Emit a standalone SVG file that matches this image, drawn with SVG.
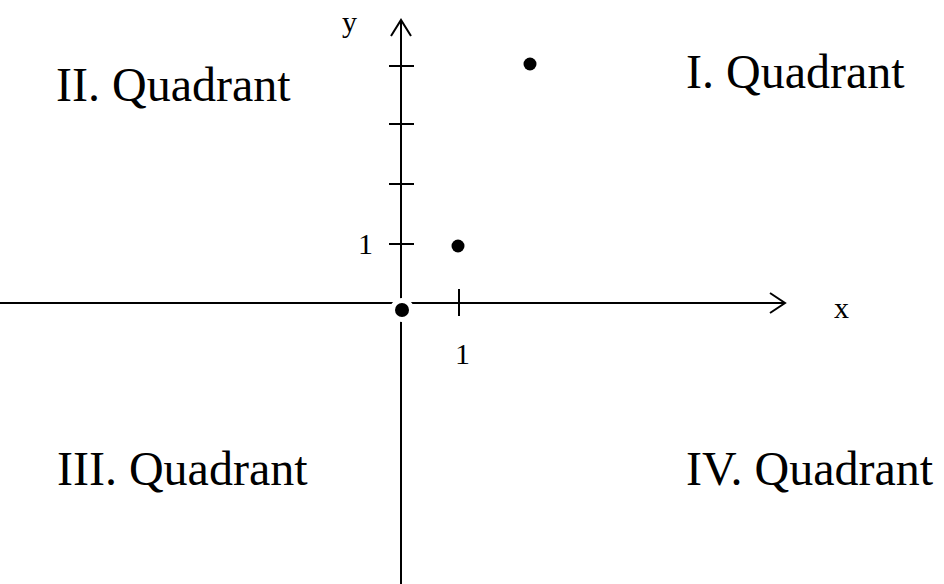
<svg xmlns="http://www.w3.org/2000/svg" width="944" height="584" viewBox="0 0 944 584">
<style>
.ax{stroke:#000;stroke-width:2;fill:none}
.q{font-family:"Liberation Serif","Times New Roman",serif;font-size:48px;fill:#000}
.s{font-family:"Liberation Serif","Times New Roman",serif;font-size:30px;fill:#000}
.pt{fill:#000}
</style>
<rect width="944" height="584" fill="#fff"/>
<g id="connectors">
<line class="ax" x1="0" y1="303" x2="785" y2="303"/>
<polyline class="ax" points="770,293 785,303 770,313"/>
<line class="ax" x1="401" y1="584" x2="401" y2="21"/>
<polyline class="ax" points="391,36 401,20 411,36"/>
<line class="ax" x1="389" y1="66" x2="414" y2="66"/>
<line class="ax" x1="389" y1="124" x2="414" y2="124"/>
<line class="ax" x1="389" y1="184" x2="414" y2="184"/>
<line class="ax" x1="389" y1="244" x2="414" y2="244"/>
<line class="ax" x1="459" y1="289" x2="459" y2="316"/>
</g>
<g id="origin"><circle class="pt" cx="402" cy="310" r="7" stroke="#fff" stroke-width="10" paint-order="stroke"/></g>
<g id="p1"><circle class="pt" cx="458" cy="246" r="6.5"/></g>
<g id="p2"><circle class="pt" cx="530" cy="64" r="6.5"/></g>
<g id="labels">
<text class="s" x="342" y="32">y</text>
<text class="s" x="834" y="318">x</text>
<text class="s" x="358" y="254">1</text>
<text class="s" x="455" y="364">1</text>
<text class="q" x="56" y="101">II. Quadrant</text>
<text class="q" x="686" y="88">I. Quadrant</text>
<text class="q" x="57" y="485">III. Quadrant</text>
<text class="q" x="686" y="485">IV. Quadrant</text>
</g>
</svg>
